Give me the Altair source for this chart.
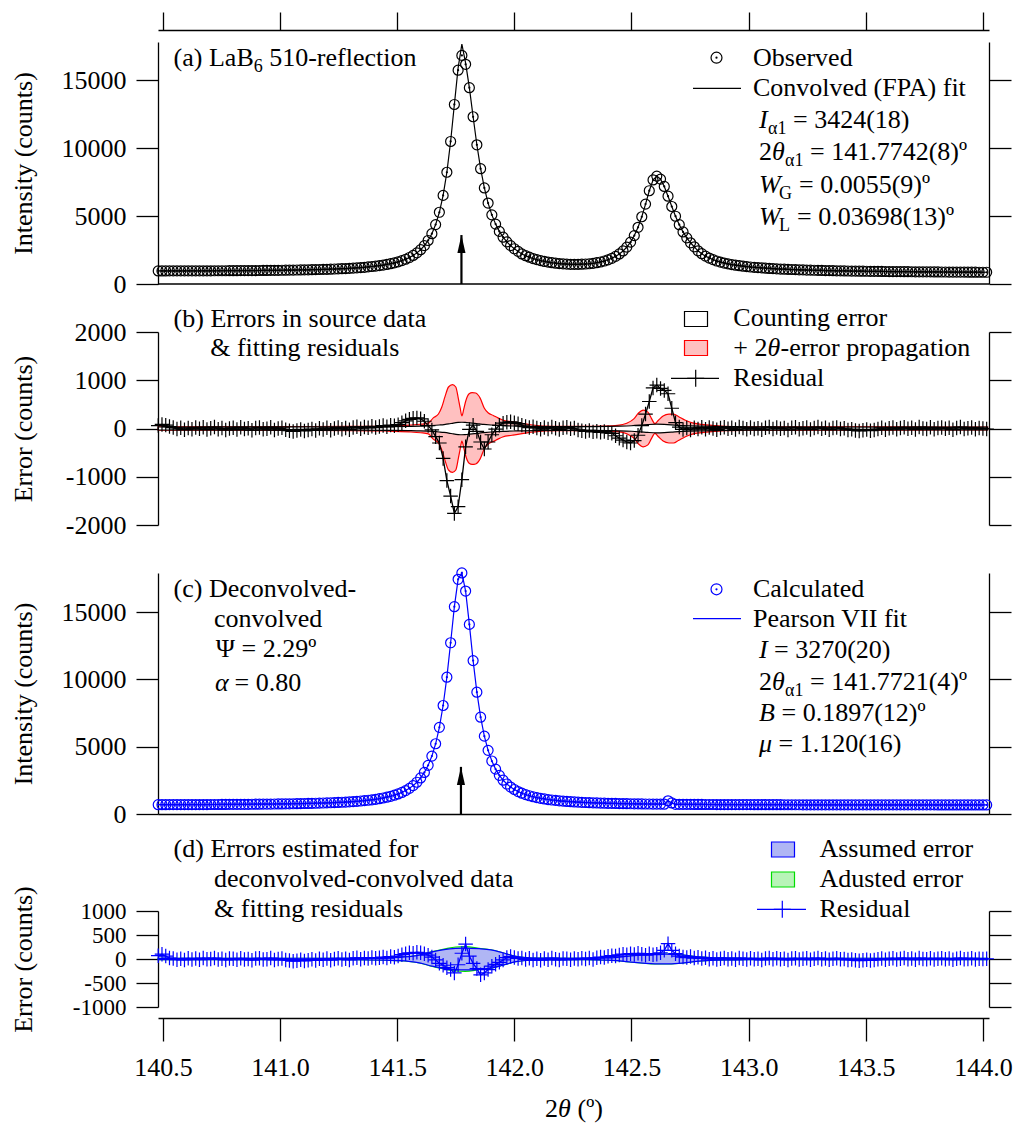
import altair as alt
import pandas as pd

FONT = "Liberation Serif"
FS = 26
SUB = 18
BLUE = "#0000ff"
W = 831
XD = [140.479, 144.026]
X0, STEP = 140.48, 0.016          # 2-theta scan grid (start, step)

x_ticks = [140.5, 141.0, 141.5, 142.0, 142.5, 143.0, 143.5, 144.0]

# (a) observed intensity on the scan grid
obs_a = [
    961, 962, 962, 963, 963, 964, 964, 965, 966, 966,
    967, 968, 969, 970, 971, 973, 974, 975, 976, 977,
    978, 980, 982, 984, 986, 988, 990, 993, 995, 998,
    1000, 1003, 1007, 1010, 1014, 1018, 1023, 1028, 1033, 1038,
    1044, 1051, 1058, 1066, 1073, 1081, 1091, 1102, 1113, 1125,
    1137, 1153, 1170, 1189, 1209, 1230, 1257, 1287, 1318, 1352,
    1392, 1440, 1493, 1557, 1631, 1718, 1822, 1948, 2100, 2288,
    2522, 2820, 3201, 3702, 4370, 5276, 6517, 8220, 10483, 13204,
    15727, 16816, 16158, 14440, 12301, 10240, 8480, 7063, 5952, 5085,
    4405, 3870, 3443, 3100, 2820, 2591, 2400, 2210, 2080, 1970,
    1870, 1790, 1720, 1660, 1610, 1565, 1530, 1500, 1478, 1462,
    1450, 1445, 1446, 1455, 1470, 1490, 1520, 1565, 1620, 1690,
    1780, 1890, 2030, 2210, 2430, 2715, 3080, 3561, 4170, 4946,
    5876, 6860, 7652, 7936, 7714, 7177, 6460, 5700, 4985, 4360,
    3830, 3393, 3032, 2737, 2440, 2230, 2050, 1910, 1790, 1690,
    1610, 1540, 1480, 1430, 1385, 1345, 1310, 1280, 1252, 1228,
    1205, 1184, 1163, 1146, 1130, 1115, 1101, 1089, 1077, 1066,
    1055, 1046, 1036, 1027, 1018, 1010, 1003, 997, 990, 983,
    977, 972, 967, 962, 957, 952, 948, 944, 940, 936,
    932, 929, 926, 922, 919, 916, 913, 911, 908, 906,
    903, 901, 898, 896, 893, 891, 889, 887, 885, 883,
    881, 879, 877, 875, 873, 871, 870, 869, 867, 866,
    864, 863,
]
# convolved (FPA) fit: follows the observed points, apex rises above them
fit_a_apex = {80: 15900, 81: 17650, 82: 16250}

# (b) fitting residual
res_b = [
    60, 85, 70, 40, 20, -10, 15, -25, 10, -15,
    20, -5, 25, -20, 5, 30, -15, 10, -30, 0,
    15, -20, 25, -10, 5, -35, 10, 20, -15, -5,
    25, -30, 0, 15, -25, -45, -60, -40, -20, -50,
    -30, -10, -40, 5, -20, 15, -35, 0, 20, -15,
    10, -25, 20, 35, -5, 30, 15, 45, 20, 40,
    60, 35, 70, 55, 80, 120, 160, 190, 210, 220,
    200, 150, 60, -30, -170, -300, -620, -1080, -1400, -1760,
    -1620, -1060, -380, -20, 70, -60, -280, -425, -280, -130,
    -15, 65, 110, 130, 140, 120, 100, 70, 40, 20,
    35, 10, -15, 20, -10, 30, 5, -20, 15, 25,
    -5, 10, -30, -45, -60, -40, -70, -55, -80, -60,
    -90, -100, -150, -200, -240, -280, -300, -250, -140, 60,
    300, 560, 840, 900, 830, 790, 720, 420, 120, 30,
    -20, 10, -30, 15, -10, 25, -15, 20, 0, -25,
    10, 25, -5, 15, -20, 30, 10, -15, 20, -10,
    5, -25, 15, 30, -10, 20, -5, 10, -30, 15,
    25, -15, 5, 20, -20, 10, 30, -5, 15, -25,
    10, 20, -10, 5, -30, -15, -40, -50, -35, -20,
    -45, -30, -10, 15, -25, 5, 20, -15, 10, 25,
    -5, 15, -20, 30, 0, -10, 25, -15, 10, 20,
    -5, 15, -25, 10, 30, -10, 5, 20, -15, 10,
    0, -10,
]
# (b) counting error (+/-) and total error with 2theta propagation (+/-)
cnt_x = [140.48, 141.0, 141.3, 141.45, 141.55, 141.6, 141.65, 141.68, 141.70, 141.72,
         141.74, 141.76, 141.776, 141.79, 141.81, 141.83, 141.85, 141.87, 141.90, 141.95,
         142.0, 142.1, 142.2, 142.3, 142.4, 142.45, 142.5, 142.54, 142.57, 142.607,
         142.64, 142.67, 142.70, 142.75, 142.8, 142.9, 143.0, 143.3, 143.6, 144.02]
cnt_e = [31, 32, 34, 37, 44, 50, 61, 72, 81, 94,
         112, 125, 130, 127, 118, 107, 94, 85, 73, 59,
         51, 43, 39, 39, 43, 48, 57, 70, 81, 89,
         85, 77, 66, 55, 48, 40, 36, 31, 30, 29]
red_x = [140.48, 140.8, 141.1, 141.3, 141.45, 141.55, 141.6, 141.633, 141.654, 141.676,
         141.69, 141.704, 141.719, 141.736, 141.75, 141.761, 141.769, 141.776, 141.784, 141.792,
         141.807, 141.82, 141.835, 141.854, 141.872, 141.889, 141.91, 141.93, 141.95, 141.99,
         142.06, 142.13, 142.2, 142.3, 142.38, 142.44, 142.48, 142.51, 142.53, 142.55,
         142.57, 142.585, 142.6, 142.615, 142.635, 142.66, 142.68, 142.70, 142.73, 142.76,
         142.8, 142.85, 142.9, 143.0, 143.3, 143.6, 144.02]
red_e = [35, 36, 38, 42, 52, 70, 88, 110, 220, 300,
         440, 660, 860, 910, 860, 620, 420, 260, 400, 560,
         720, 745, 735, 630, 420, 320, 270, 220, 175, 140,
         85, 48, 42, 44, 50, 65, 110, 200, 320, 380,
         340, 210, 100, 170, 260, 300, 300, 250, 170, 115,
         85, 62, 46, 40, 34, 32, 30]

# (c) deconvolved-convolved (calculated) intensity
calc_c = [
    691, 692, 693, 694, 694, 695, 696, 697, 698, 699,
    700, 701, 702, 703, 705, 706, 707, 709, 710, 712,
    714, 716, 718, 720, 722, 725, 727, 730, 733, 736,
    739, 742, 745, 749, 753, 758, 762, 767, 773, 779,
    785, 792, 800, 807, 816, 825, 835, 846, 858, 872,
    888, 904, 922, 942, 966, 993, 1022, 1055, 1093, 1137,
    1189, 1248, 1315, 1395, 1490, 1603, 1739, 1905, 2108, 2360,
    2680, 3087, 3613, 4301, 5217, 6436, 8059, 10163, 12718, 15398,
    17432, 17904, 16558, 14083, 11394, 9049, 7192, 5782, 4727, 3935,
    3333, 2871, 2511, 2227, 2001, 1819, 1668, 1544, 1442, 1354,
    1281, 1217, 1163, 1117, 1075, 1040, 1009, 980, 956, 933,
    914, 897, 881, 867, 853, 841, 830, 820, 811, 803,
    795, 788, 782, 776, 770, 765, 760, 756, 752, 748,
    744, 741, 738, 735, 732, 729, 980, 820, 722, 720,
    717, 715, 713, 711, 710, 708, 707, 706, 705, 703,
    702, 701, 700, 699, 698, 697, 696, 695, 694, 693,
    692, 691, 691, 690, 690, 689, 689, 688, 688, 687,
    686, 686, 685, 685, 684, 684, 683, 683, 682, 682,
    681, 681, 681, 680, 680, 680, 679, 679, 679, 678,
    678, 678, 678, 677, 677, 677, 677, 676, 676, 676,
    676, 676, 675, 675, 675, 675, 675, 675, 674, 674,
    674, 674, 674, 674, 674, 673, 673, 673, 673, 673,
    673, 673,
]

# (d) residual of the Pearson VII fit
res_d = [
    70, 100, 60, 20, 10, -15, 5, -20, 15, -10,
    10, -15, 20, -5, 0, 20, -10, 5, -20, 10,
    5, -15, 15, -10, 0, -25, 10, 15, -10, -5,
    20, -20, 0, 10, -20, -30, -45, -35, -15, -40,
    -25, -5, -30, 5, -15, 10, -25, 0, 15, -10,
    5, -20, 15, 25, -5, 20, 10, 30, 15, 25,
    40, 20, 50, 35, 60, 90, 110, 130, 120, 140,
    130, 110, 80, 40, -20, -90, -130, -180, -220, -290,
    -120, 120, 310, 60, -90, -200, -330, -290, -220, -150,
    -110, -70, -20, 30, 50, 30, 10, 20, -10, 15,
    -20, 5, -25, 10, -15, 20, -5, -20, 10, 5,
    -15, 10, -5, 15, 0, 20, -10, 25, 40, 30,
    55, 70, 60, 85, 100, 90, 110, 95, 120, 100,
    80, 110, 90, 100, 130, 180, 320, 180, 110, 60,
    40, 30, 50, 20, 35, 10, 25, -5, 15, -10,
    5, 20, -5, 10, -15, 20, 5, -10, 15, -5,
    5, -20, 10, 20, -5, 15, -5, 5, -20, 10,
    15, -10, 5, 15, -15, 5, 20, -5, 10, -15,
    5, 15, -5, 0, -20, -10, -25, -35, -25, -15,
    -30, -20, -5, 10, -15, 5, 15, -10, 5, 20,
    -5, 10, -15, 20, 0, -5, 15, -10, 5, 15,
    -5, 10, -15, 5, 20, -5, 0, 15, -10, 5,
    0, 5,
]
# (d) assumed and adjusted error (+/-)
blue_x = [140.48, 141.0, 141.3, 141.45, 141.5, 141.55, 141.6, 141.65, 141.7, 141.75,
          141.79, 141.85, 141.9, 141.95, 142.0, 142.05, 142.1, 142.3, 142.4, 142.45,
          142.5, 142.55, 142.6, 142.65, 142.7, 142.75, 142.8, 142.86, 143.0, 144.02]
blue_e = [15, 15, 16, 22, 32, 48, 85, 150, 195, 220,
          228, 215, 190, 130, 60, 30, 18, 16, 22, 40,
          65, 85, 100, 102, 90, 65, 40, 22, 16, 15]
green_e = [15, 15, 16, 22, 32, 48, 85, 152, 205, 250,
           256, 222, 192, 130, 60, 30, 18, 16, 22, 40,
           65, 86, 102, 104, 91, 65, 40, 22, 16, 15]

arrow_a = (141.7742, 3600)
arrow_c = (141.7721, 3500)

ONE = pd.DataFrame({"k": [0]})
PLUS = "M-1,0L1,0M0,-1L0,1"
HEAD = "M0,-1L0.45,1L-0.45,1Z"
CIRC = 100


def scan(vals):
    return pd.DataFrame({"x": [round(X0 + STEP * i, 3) for i in range(len(vals))], "y": vals})


def band(xs, es):
    return pd.DataFrame({"x": xs, "y": es, "y2": [-e for e in es]})


def T(x, y, s, size=FS, italic=False, dy=0):
    return alt.Chart(ONE).mark_text(
        text=s, font=FONT, fontSize=size, fontStyle="italic" if italic else "normal",
        color="black", align="left", baseline="middle", dy=dy,
    ).encode(x=alt.value(x), y=alt.value(y))


def R(x1, x2, y, color="black", w=1.3):
    return alt.Chart(ONE).mark_rule(color=color, strokeWidth=w).encode(
        x=alt.value(x1), x2=alt.value(x2), y=alt.value(y))


def box(cx, cy, fill, stroke, w=23, h=15):
    return alt.Chart(ONE).mark_rect(fill=fill, stroke=stroke, strokeWidth=1.2).encode(
        x=alt.value(cx - w / 2), x2=alt.value(cx + w / 2),
        y=alt.value(cy - h / 2), y2=alt.value(cy + h / 2))


def sym(cx, cy, shape, size, color, filled=False, sw=1.2):
    return alt.Chart(ONE).mark_point(shape=shape, size=size, color=color, filled=filled,
                                     opacity=1, strokeWidth=sw).encode(
        x=alt.value(cx), y=alt.value(cy))


def panel(ydom, H, ytitle, yvals, xaxis, layer_fn, texts, label_size=FS):
    X = alt.X("x:Q", scale=alt.Scale(domain=XD, nice=False, zero=False), axis=xaxis)
    Y = alt.Y("y:Q", scale=alt.Scale(domain=ydom, nice=False, zero=False),
              axis=alt.Axis(title=ytitle, values=yvals, tickSize=22, labelPadding=10,
                            labelFontSize=label_size,
                            labelExpr="datum.value + ''", labelOverlap=False,
                            titleAngle=270, titleBaseline="top", titleX=-148))
    Y2 = alt.Y2("y2:Q")
    inner = alt.layer(*layer_fn(X, Y, Y2))
    YR = alt.Y("y:Q", scale=alt.Scale(domain=ydom, nice=False, zero=False),
               axis=alt.Axis(orient="right", values=yvals, labels=False, title=None, tickSize=22))
    right = alt.Chart(pd.DataFrame({"x": [XD[0]], "y": [ydom[0]]})).mark_point(opacity=0).encode(x=X, y=YR)
    return alt.layer(inner, right, *texts).resolve_scale(y="independent").properties(width=W, height=H)


def arrow_layers(X, Y, Y2, ax, top):
    return [
        alt.Chart(pd.DataFrame({"x": [ax], "y": [0], "y2": [top]})).mark_rule(
            color="black", strokeWidth=2.2).encode(x=X, y=Y, y2=Y2),
        alt.Chart(pd.DataFrame({"x": [ax], "y": [top]})).mark_point(
            shape=HEAD, filled=True, size=324, color="black", opacity=1, yOffset=9).encode(x=X, y=Y),
    ]


# ---------------- panel (a)
HA = 242


def layers_a(X, Y, Y2):
    d = scan(obs_a)
    fit = list(obs_a)
    for k, v in fit_a_apex.items():
        fit[k] = v
    return [
        alt.Chart(scan(fit)).mark_line(color="black", strokeWidth=1.2).encode(x=X, y=Y),
        alt.Chart(d).mark_point(shape="circle", filled=False, size=CIRC, color="black",
                                strokeWidth=1.2, opacity=1).encode(x=X, y=Y),
        alt.Chart(d).mark_circle(size=5, color="black", opacity=1).encode(x=X, y=Y),
        *arrow_layers(X, Y, Y2, *arrow_a),
        R(0, W, HA),
    ]


texts_a = [
    T(15.6, 16.3, "(a) LaB"), T(95.7, 16.3, "6", SUB, dy=9), T(111.2, 16.3, "510-reflection"),
    sym(558.5, 15.7, "circle", 120, "black", sw=1.2), sym(558.5, 15.7, "circle", 5, "black", True),
    T(595, 15.7, "Observed"),
    R(535, 583, 46.3, "black", 1.2), T(595, 46.3, "Convolved (FPA) fit"),
    T(601, 77.5, "I", italic=True), T(610, 77.5, "α1", SUB, dy=9), T(635, 77.5, "= 3424(18)"),
    T(601, 110, "2"), T(614, 110, "θ", italic=True), T(627, 110, "α1", SUB, dy=9),
    T(652, 110, "= 141.7742(8)º"),
    T(601, 142.5, "W", italic=True), T(621, 142.5, "G", SUB, dy=9), T(641, 142.5, "= 0.0055(9)º"),
    T(601, 175, "W", italic=True), T(621, 175, "L", SUB, dy=9), T(639, 175, "= 0.03698(13)º"),
]
pa = panel([0, 17800], HA, "Intensity (counts)", [0, 5000, 10000, 15000],
           alt.Axis(orient="top", values=x_ticks, labels=False, tickSize=18, offset=12, title=None),
           layers_a, texts_a)

# ---------------- panel (b)
HB = 193


def layers_b(X, Y, Y2):
    d = scan(res_b)
    return [
        alt.Chart(band(red_x, red_e)).mark_area(fill="#ffc0c0", stroke="#ff0000", strokeWidth=1.2,
                                                 interpolate="monotone", opacity=1).encode(x=X, y=Y, y2=Y2),
        alt.Chart(band(cnt_x, cnt_e)).mark_area(fill="white", stroke="black", strokeWidth=1.2,
                                                 interpolate="monotone", opacity=1).encode(x=X, y=Y, y2=Y2),
        alt.Chart(d).mark_line(color="black", strokeWidth=1.3).encode(x=X, y=Y),
        alt.Chart(d).mark_point(shape=PLUS, filled=False, size=210, color="black",
                                strokeWidth=1.2, opacity=1).encode(x=X, y=Y),
    ]


texts_b = [
    T(15.6, -12.7, "(b) Errors in source data"),
    T(52.2, 15.7, "& fitting residuals"),
    box(538, -13, "white", "black"), T(575.3, -13.7, "Counting error"),
    box(538, 16, "#ffc0c0", "#ff0000"),
    T(575.3, 15.7, "+ 2"), T(609.5, 15.7, "θ", italic=True), T(622.5, 15.7, "-error propagation"),
    R(513, 561, 46.3, "black", 1.3), sym(537.7, 46.3, PLUS, 289, "black"),
    T(575.3, 46.3, "Residual"),
]
pb = panel([-2000, 2000], HB, "Error (counts)", [-2000, -1000, 0, 1000, 2000], None, layers_b, texts_b)

# ---------------- panel (c)
HC = 241


def layers_c(X, Y, Y2):
    d = scan(calc_c)
    return [
        alt.Chart(d).mark_line(color=BLUE, strokeWidth=1.2).encode(x=X, y=Y),
        alt.Chart(d).mark_point(shape="circle", filled=False, size=CIRC, color=BLUE,
                                strokeWidth=1.2, opacity=1).encode(x=X, y=Y),
        alt.Chart(d).mark_circle(size=5, color=BLUE, opacity=1).encode(x=X, y=Y),
        *arrow_layers(X, Y, Y2, *arrow_c),
    ]


texts_c = [
    T(15.6, 16.3, "(c) Deconvolved-"),
    T(56, 45.7, "convolved"),
    T(57.8, 76.3, "Ψ = 2.29º"),
    T(57, 109.7, "α", italic=True), T(76.5, 109.7, "= 0.80"),
    sym(558.5, 16.3, "circle", 120, BLUE, sw=1.2), sym(558.5, 16.3, "circle", 5, BLUE, True),
    T(595, 16.3, "Calculated"),
    R(535, 583, 45.7, BLUE, 1.2), T(595, 45.7, "Pearson VII fit"),
    T(601, 77, "I", italic=True), T(616, 77, "= 3270(20)"),
    T(601, 108.5, "2"), T(614, 108.5, "θ", italic=True), T(627, 108.5, "α1", SUB, dy=9),
    T(652, 108.5, "= 141.7721(4)º"),
    T(601, 140, "B", italic=True), T(623.5, 140, "= 0.1897(12)º"),
    T(601, 171, "μ", italic=True), T(620.5, 171, "= 1.120(16)"),
]
pc = panel([0, 17900], HC, "Intensity (counts)", [0, 5000, 10000, 15000],
           alt.Axis(orient="bottom", values=x_ticks, labels=False, ticks=False, title=None),
           layers_c, texts_c)

# ---------------- panel (d)
HD = 96


def layers_d(X, Y, Y2):
    d = scan(res_d)
    return [
        alt.Chart(band(blue_x, green_e)).mark_area(fill="#b8f4b8", stroke="#00dd00", strokeWidth=1.2,
                                                    interpolate="monotone", opacity=1).encode(x=X, y=Y, y2=Y2),
        alt.Chart(band(blue_x, blue_e)).mark_area(fill="#b0b6f4", stroke=BLUE, strokeWidth=1.2,
                                                   interpolate="monotone", opacity=1).encode(x=X, y=Y, y2=Y2),
        alt.Chart(d).mark_line(color=BLUE, strokeWidth=1.3).encode(x=X, y=Y),
        alt.Chart(d).mark_point(shape=PLUS, filled=False, size=210, color=BLUE,
                                strokeWidth=1.2, opacity=1).encode(x=X, y=Y),
    ]


texts_d = [
    T(15.6, -61.7, "(d) Errors estimated for"),
    T(56, -31.7, "deconvolved-convolved data"),
    T(56, -1.7, "& fitting residuals"),
    box(625, -61.5, "#b0b6f4", BLUE), T(661.4, -62, "Assumed error"),
    box(625, -31.5, "#b8f4b8", "#00dd00"), T(661.4, -32, "Adusted error"),
    R(599, 648, -1.7, BLUE, 1.3), sym(624.3, -1.7, PLUS, 289, BLUE),
    T(661.4, -2, "Residual"),
    T(387, 198, "2"), T(400, 198, "θ", italic=True), T(419.5, 198, "(º)"),
]
pdd = panel([-1000, 1000], HD, "Error (counts)", [-1000, -500, 0, 500, 1000],
            alt.Axis(orient="bottom", values=x_ticks, format=".1f", tickSize=23, offset=11,
                     labelPadding=13, title=None, labelFlush=False, labelOverlap=False),
            layers_d, texts_d, label_size=23)

spacer = alt.Chart(ONE).mark_point(opacity=0).encode(
    x=alt.value(0), y=alt.value(0)).properties(width=W, height=1)

chart = alt.vconcat(pa, pb, pc, spacer, pdd, spacing=48, bounds="flush").configure_view(
    stroke=None
).configure_axis(
    domainColor="black", tickColor="black", domainWidth=1.3, tickWidth=1.3,
    labelFont=FONT, labelFontSize=FS, labelColor="black",
    titleFont=FONT, titleFontSize=FS, titleColor="black", titleFontWeight="normal",
    grid=False,
).properties(padding={"left": 10, "top": 11, "right": 2, "bottom": 2})

chart.save("out.html", embed_options={"renderer": "svg", "actions": False})
